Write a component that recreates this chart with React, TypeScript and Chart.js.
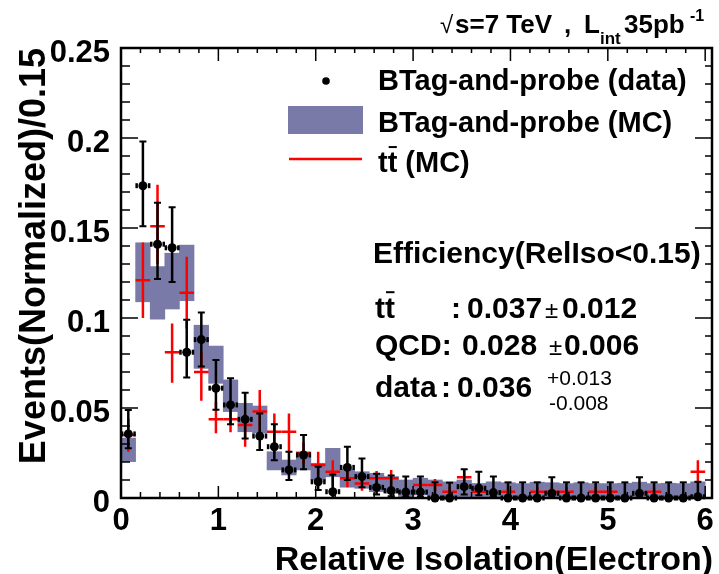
import React, { useEffect, useRef } from 'react';
import { Chart, registerables } from 'chart.js';

Chart.register(...registerables);

const FONT = '"Liberation Sans", Arial, Helvetica, sans-serif';
const MC_COLOR = 'rgb(122,122,168)';
const BIN_HALF = 0.075;

// bin centres (Relative Isolation, bin width 0.15)
const binCenters = [
  0.075, 0.225, 0.375, 0.525, 0.675, 0.825, 0.975, 1.125, 1.275, 1.425,
  1.575, 1.725, 1.875, 2.025, 2.175, 2.325, 2.475, 2.625, 2.775, 2.925,
  3.075, 3.225, 3.375, 3.525, 3.675, 3.825, 3.975, 4.125, 4.275, 4.425,
  4.575, 4.725, 4.875, 5.025, 5.175, 5.325, 5.475, 5.625, 5.775, 5.925,
];

// Tag-and-probe (data)
const dataValues = [
  0.0356, 0.1735, 0.141, 0.139, 0.081, 0.088, 0.061, 0.0517, 0.0437, 0.0344,
  0.0285, 0.0156, 0.0239, 0.009, 0.0035, 0.017, 0.0119, 0.0059, 0.0041, 0.0033,
  0.0033, 0, 0, 0.0063, 0.0054, 0.003, 0, 0, 0, 0.0026,
  0, 0, 0, 0, 0, 0.0026, 0, 0, 0, 0.0007,
];
const dataHigh = [
  0.0489, 0.198, 0.164, 0.1615, 0.099, 0.103, 0.0767, 0.0665, 0.0585, 0.047,
  0.041, 0.0257, 0.035, 0.0174, 0.013, 0.0285, 0.022, 0.0135, 0.0125, 0.0119,
  0.012, 0.0087, 0.0085, 0.016, 0.0146, 0.0119, 0.0087, 0.0087, 0.0087, 0.0115,
  0.0087, 0.0087, 0.0087, 0.0087, 0.0087, 0.0115, 0.0087, 0.0087, 0.0087, 0.009,
];
const dataLow = [
  0.0276, 0.151, 0.1217, 0.12, 0.067, 0.073, 0.049, 0.041, 0.033, 0.0267,
  0.021, 0.01, 0.016, 0.0044, 0, 0.01, 0.006, 0.002, 0.001, 0.0005,
  0.0005, 0, 0, 0.002, 0.0015, 0.0005, 0, 0, 0, 0.0003,
  0, 0, 0, 0, 0, 0.0003, 0, 0, 0, 0,
];

// Tag-and-probe (MC) uncertainty band
const mcLow = [
  0.0202, 0.109, 0.0994, 0.105, 0.1096, 0.072, 0.0637, 0.048, 0.0368, 0.036,
  0.0156, 0.0128, 0.0156, 0.01, 0.0118, 0.006, 0.0054, 0.0035, 0.0026, 0.0007,
  0.0017, 0.0007, 0.0007, 0.0007, 0.0007, 0.0007, 0.0007, 0.0007, 0.0007, 0.0007,
  0.0007, 0.0007, 0.0007, 0.0007, 0.0007, 0.0007, 0.0007, 0.0007, 0.0007, 0.0007,
];
const mcHigh = [
  0.0333, 0.1418, 0.1285, 0.136, 0.1405, 0.096, 0.0844, 0.0656, 0.0526, 0.0511,
  0.0257, 0.0211, 0.0257, 0.0193, 0.0276, 0.016, 0.0146, 0.0137, 0.0119, 0.01,
  0.011, 0.01, 0.009, 0.01, 0.0081, 0.009, 0.0085, 0.008, 0.0088, 0.0085,
  0.008, 0.0085, 0.008, 0.008, 0.0082, 0.0088, 0.008, 0.0082, 0.008, 0.009,
];

// ttbar (MC)
const ttValues = [
  0.035, 0.121, 0.151, 0.081, 0.114, 0.07, 0.0437, 0.0437, 0.0406, 0.048,
  0.0368, 0.0368, 0.0248, 0.0183, 0.0146, 0.011, 0.0081, 0.011, 0.011, null,
  0.0072, 0.0072, 0.0035, 0.0115, 0.0035, null, 0.0035, null, 0.0035, 0.0035,
  0.0035, null, 0.0035, 0.0035, null, null, 0.0035, null, null, 0.0146,
];
const ttLow = [
  0.0257, 0.1, 0.13, 0.064, 0.094, 0.054, 0.036, 0.0365, 0.0285, 0.036,
  0.0248, 0.025, 0.019, 0.0118, 0.0063, 0.006, 0.004, 0.007, 0.0075, null,
  0.004, 0.004, 0.001, 0.0075, 0.001, null, 0.001, null, 0.001, 0.001,
  0.001, null, 0.001, 0.001, null, null, 0.001, null, null, 0.008,
];
const ttHigh = [
  0.044, 0.142, 0.174, 0.097, 0.134, 0.081, 0.0535, 0.0515, 0.0467, 0.06,
  0.047, 0.047, 0.031, 0.0257, 0.021, 0.0174, 0.012, 0.015, 0.0155, null,
  0.0105, 0.0105, 0.006, 0.016, 0.006, null, 0.006, null, 0.006, 0.006,
  0.006, null, 0.006, 0.006, null, null, 0.006, null, null, 0.021,
];

const xTickValues = [0, 1, 2, 3, 4, 5, 6];
const xTickLabels = ['0', '1', '2', '3', '4', '5', '6'];
const yTickValues = [0, 0.05, 0.1, 0.15, 0.2, 0.25];
const yTickLabels = ['0', '0.05', '0.1', '0.15', '0.2', '0.25'];

function drawTtbar(ctx: CanvasRenderingContext2D, x: number, baseline: number, size: number) {
  ctx.font = `bold ${size}px ${FONT}`;
  ctx.textAlign = 'left';
  const w = ctx.measureText('t').width;
  ctx.fillText('tt', x, baseline);
  ctx.save();
  ctx.lineWidth = 2;
  ctx.beginPath();
  ctx.moveTo(x + w + 1, baseline - size * 0.86);
  ctx.lineTo(x + 2 * w - 0.5, baseline - size * 0.86);
  ctx.stroke();
  ctx.restore();
  return 2 * w;
}

const rootPlugin = {
  id: 'rootStyle',
  afterDatasetDraw(chart: any, args: any) {
    if (args.index !== 0) return;
    const ctx: CanvasRenderingContext2D = chart.ctx;
    const xs = chart.scales.x;
    const ys = chart.scales.y;
    ctx.save();
    // ttbar red crosses
    ctx.strokeStyle = '#ff0000';
    ctx.lineWidth = 2.5;
    binCenters.forEach((c, i) => {
      const v = ttValues[i];
      if (v === null) return;
      const px = xs.getPixelForValue(c);
      const x0 = xs.getPixelForValue(c - BIN_HALF);
      const x1 = xs.getPixelForValue(c + BIN_HALF);
      const py = ys.getPixelForValue(v);
      ctx.beginPath();
      ctx.moveTo(x0, py);
      ctx.lineTo(x1, py);
      ctx.moveTo(px, ys.getPixelForValue(ttLow[i] as number));
      ctx.lineTo(px, ys.getPixelForValue(ttHigh[i] as number));
      ctx.stroke();
    });
    // data error bars
    ctx.strokeStyle = '#000';
    ctx.fillStyle = '#000';
    binCenters.forEach((c, i) => {
      const px = xs.getPixelForValue(c);
      const py = ys.getPixelForValue(dataValues[i]);
      const yh = ys.getPixelForValue(dataHigh[i]);
      const yl = ys.getPixelForValue(dataLow[i]);
      ctx.lineWidth = 2.5;
      ctx.beginPath();
      ctx.moveTo(px, yl);
      ctx.lineTo(px, yh);
      ctx.stroke();
      ctx.lineWidth = 2;
      ctx.beginPath();
      ctx.moveTo(px - 3.5, yh);
      ctx.lineTo(px + 3.5, yh);
      if (dataLow[i] > 0) {
        ctx.moveTo(px - 3.5, yl);
        ctx.lineTo(px + 3.5, yl);
      }
      ctx.stroke();
      // horizontal marks beside the marker
      ctx.fillRect(px - 7.5, py - 2.5, 2.5, 5);
      ctx.fillRect(px + 5, py - 2.5, 2.5, 5);
    });
    ctx.restore();
  },
  afterDraw(chart: any) {
    const ctx: CanvasRenderingContext2D = chart.ctx;
    const xs = chart.scales.x;
    const ys = chart.scales.y;
    const { left, right, top, bottom } = chart.chartArea;
    ctx.save();
    ctx.fillStyle = '#000';
    ctx.strokeStyle = '#000';

    // frame
    ctx.lineWidth = 2.5;
    ctx.strokeRect(left, top, right - left, bottom - top);

    // x ticks (every 0.2, major every 1)
    ctx.lineWidth = 1.5;
    ctx.beginPath();
    for (let k = 0; k <= 30; k++) {
      const px = xs.getPixelForValue(k * 0.2);
      const major = k % 5 === 0;
      ctx.moveTo(px, bottom);
      ctx.lineTo(px, bottom - (major ? 12 : 6));
      ctx.moveTo(px, top);
      ctx.lineTo(px, top + (major ? 13 : 5));
    }
    // y ticks (every 0.01, major every 0.05)
    for (let k = 0; k <= 25; k++) {
      const py = ys.getPixelForValue(k * 0.01);
      const major = k % 5 === 0;
      ctx.moveTo(left, py);
      ctx.lineTo(left + (major ? 17 : 9), py);
      ctx.moveTo(right, py);
      ctx.lineTo(right - (major ? 17 : 7), py);
    }
    ctx.stroke();

    // tick labels
    ctx.font = `bold 31px ${FONT}`;
    ctx.textBaseline = 'alphabetic';
    ctx.textAlign = 'right';
    yTickValues.forEach((v, i) => {
      ctx.fillText(yTickLabels[i], left - 11, ys.getPixelForValue(v) + 14);
    });
    ctx.textAlign = 'center';
    xTickValues.forEach((v, i) => {
      ctx.fillText(xTickLabels[i], xs.getPixelForValue(v), 530);
    });

    // axis titles
    ctx.font = `bold 34px ${FONT}`;
    ctx.textAlign = 'right';
    ctx.fillText('Relative Isolation(Electron)', 713, 570);
    ctx.save();
    ctx.translate(45, 48);
    ctx.rotate(-Math.PI / 2);
    ctx.font = `bold 36px ${FONT}`;
    ctx.textAlign = 'right';
    ctx.fillText('Events(Normalized)/0.15', 0, 0);
    ctx.restore();

    // top-right label
    ctx.textAlign = 'left';
    ctx.font = `24px ${FONT}`;
    ctx.fillText('\u221A', 440, 33);
    ctx.font = `bold 26px ${FONT}`;
    ctx.fillText('s=7 TeV', 455, 33);
    ctx.fillText(',', 564, 33);
    ctx.fillText('L', 584, 33);
    ctx.font = `bold 17px ${FONT}`;
    ctx.fillText('int', 600, 44);
    ctx.font = `bold 26px ${FONT}`;
    ctx.fillText('35pb', 624, 33);
    ctx.font = `bold 16px ${FONT}`;
    ctx.fillText('-1', 690, 21);

    // legend
    ctx.beginPath();
    ctx.arc(326, 81, 3.8, 0, Math.PI * 2);
    ctx.fill();
    ctx.fillStyle = MC_COLOR;
    ctx.fillRect(288, 106, 75, 28);
    ctx.fillStyle = '#000';
    ctx.strokeStyle = '#ff0000';
    ctx.lineWidth = 2.5;
    ctx.beginPath();
    ctx.moveTo(289, 159);
    ctx.lineTo(362, 159);
    ctx.stroke();
    ctx.strokeStyle = '#000';
    ctx.font = `bold 29px ${FONT}`;
    ctx.fillText('BTag-and-probe (data)', 378, 90);
    ctx.fillText('BTag-and-probe (MC)', 378, 132);
    const w1 = drawTtbar(ctx, 378, 172, 29);
    ctx.font = `bold 29px ${FONT}`;
    ctx.fillText('(MC)', 378 + w1 + 8, 172);

    // efficiency box
    ctx.font = `bold 30px ${FONT}`;
    ctx.fillText('Efficiency(RelIso<0.15)', 373, 263);
    drawTtbar(ctx, 375, 318, 30);
    ctx.font = `bold 30px ${FONT}`;
    ctx.fillText(':', 451, 318);
    ctx.fillText('0.037', 467, 318);
    ctx.fillText('0.012', 562, 318);
    ctx.fillText('QCD:', 375, 355);
    ctx.fillText('0.028', 462, 355);
    ctx.fillText('0.006', 564, 355);
    ctx.fillText('data', 375, 397);
    ctx.fillText(':', 441, 397);
    ctx.fillText('0.036', 457, 397);
    ctx.font = `24px ${FONT}`;
    ctx.fillText('\u00B1', 545, 318);
    ctx.fillText('\u00B1', 549, 355);
    ctx.font = `21px ${FONT}`;
    ctx.fillText('+0.013', 547, 385);
    ctx.fillText('-0.008', 549, 410);

    ctx.restore();
  },
};

export default function App() {
  const canvasRef = useRef<HTMLCanvasElement | null>(null);

  useEffect(() => {
    const canvas = canvasRef.current;
    if (!canvas) return;
    const chart = new Chart(canvas, {
      type: 'scatter',
      data: {
        datasets: [
          {
            type: 'bar',
            label: 'Tag-and-probe (MC)',
            data: binCenters.map((c, i) => ({ x: c, y: [mcLow[i], mcHigh[i]] })) as any,
            backgroundColor: MC_COLOR,
            borderWidth: 0,
            barPercentage: 1,
            categoryPercentage: 1,
            order: 2,
          } as any,
          {
            type: 'scatter',
            label: 'Tag-and-probe (data)',
            data: binCenters.map((c, i) => ({ x: c, y: dataValues[i] })),
            pointRadius: 4.5,
            pointBackgroundColor: '#000',
            pointBorderColor: '#000',
            pointBorderWidth: 0,
            clip: false,
            order: 1,
          } as any,
        ],
      },
      options: {
        responsive: false,
        devicePixelRatio: 1,
        animation: false,
        layout: { padding: { left: 121, right: 7, top: 48, bottom: 76 } },
        plugins: { legend: { display: false }, tooltip: { enabled: false } },
        events: [],
        scales: {
          x: { type: 'linear', min: 0, max: 6.07, offset: false, display: false, grid: { offset: false } },
          y: { type: 'linear', min: 0, max: 0.25, display: false },
        },
      },
      plugins: [rootPlugin],
    });
    return () => chart.destroy();
  }, []);

  return (
    <div style={{ position: 'absolute', left: 0, top: 0, width: 719, height: 574, background: '#fff' }}>
      <canvas ref={canvasRef} width={719} height={574} style={{ width: 719, height: 574 }} />
    </div>
  );
}
